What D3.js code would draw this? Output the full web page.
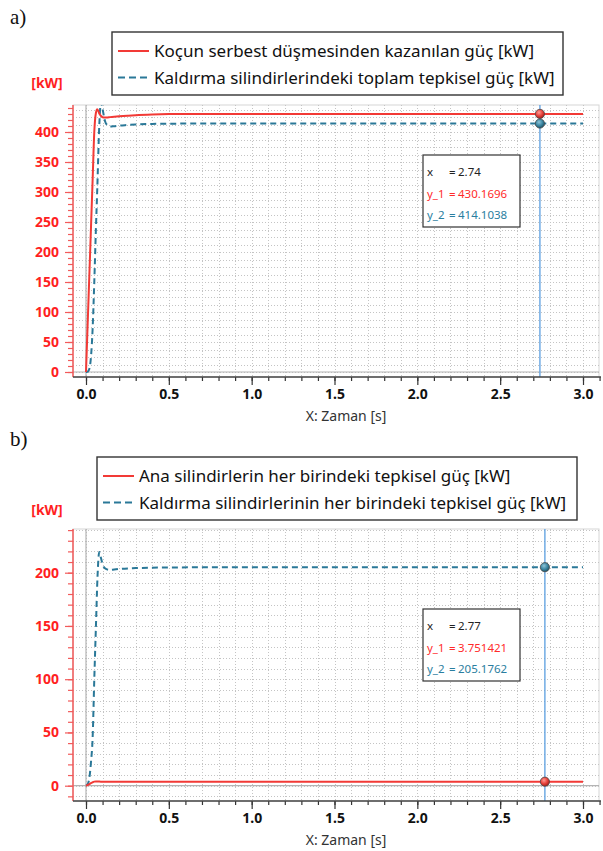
<!DOCTYPE html>
<html>
<head>
<meta charset="utf-8">
<script src="https://cdn.jsdelivr.net/npm/d3@7"></script>
<style>
  body { margin: 0; background: #fff; }
  svg { display: block; }
</style>
</head>
<body>
<svg id="chart" width="603" height="851"></svg>
<script>
// ---- Panel a) : power from the ram's free fall vs. total reaction power of lifting cylinders
const timeA = [0, 0.005, 0.01, 0.02, 0.03, 0.04, 0.05, 0.06, 0.068, 0.08, 0.09, 0.1, 0.115, 0.13, 0.145,
               0.17, 0.2, 0.25, 0.3, 0.4, 0.5, 0.7, 1.0, 1.5, 2.0, 2.5, 3.0];
const fallPowerA = [0, 40, 80, 160, 240, 320, 400, 432, 438, 431, 427, 424.5, 424, 424.3, 424.8,
                    425.5, 426.2, 427.2, 428.1, 429.2, 429.8, 430.05, 430.12, 430.16, 430.17, 430.17, 430.17];
const liftPowerA = [0, 0, 0.5, 5, 25, 72, 150, 240, 305, 410, 450, 438, 418, 411, 409,
                    409.6, 410.6, 411.6, 412.5, 413.5, 413.9, 414.05, 414.1, 414.1, 414.1, 414.1, 414.1];
const cursorA = 2.74;
const readoutA = [430.1696, 414.1038];

// ---- Panel b) : reaction power in each main cylinder vs. each lifting cylinder
const timeB = [0, 0.01, 0.02, 0.03, 0.04, 0.05, 0.06, 0.07, 0.08, 0.09, 0.1, 0.12, 0.145, 0.17,
               0.2, 0.3, 0.5, 0.7, 1.0, 1.5, 2.0, 2.5, 3.0];
const mainPowerB = [0, 0.6, 1.5, 2.4, 3.2, 3.8, 4.0, 3.95, 3.86, 3.8, 3.78, 3.765, 3.757, 3.754,
                    3.753, 3.752, 3.7515, 3.7514, 3.7514, 3.7514, 3.7514, 3.7514, 3.7514];
const liftPowerB = [0, 1.5, 7, 22, 45, 100, 150, 198, 219.5, 214, 208, 203.5, 202.5, 203,
                    203.5, 204.3, 204.9, 205.05, 205.15, 205.17, 205.18, 205.18, 205.18];
const cursorB = 2.77;
const readoutB = [3.751421, 205.1762];

// ---- Axis ticks and texts
const xMajorTicks = [0, 0.5, 1.0, 1.5, 2.0, 2.5, 3.0];
const yMajorTicksA = [0, 50, 100, 150, 200, 250, 300, 350, 400];
const yMajorTicksB = [0, 50, 100, 150, 200];
const legendA = ["Koçun serbest düşmesinden kazanılan güç [kW]",
                 "Kaldırma silindirlerindeki toplam tepkisel güç [kW]"];
const legendB = ["Ana silindirlerin her birindeki tepkisel güç [kW]",
                 "Kaldırma silindirlerinin her birindeki tepkisel güç [kW]"];
const xTitle = "X: Zaman [s]";
const yUnit = "[kW]";

// ---- Styles
const RED = "#f23a36";
const BLUE = "#2a7898";
const AXIS_RED = "#f25a5a";
const LABEL_RED = "#ff1f1f";
const CURSOR = "#5a9ee0";
const GRID = "#c4c4c4";
const SANS = "Noto Sans, DejaVu Sans, sans-serif";

const svg = d3.select("#chart");
const defs = svg.append("defs");

function ballGradient(id, light, base, dark) {
  const gr = defs.append("radialGradient").attr("id", id)
    .attr("cx", "40%").attr("cy", "35%").attr("r", "65%");
  gr.append("stop").attr("offset", "0%").attr("stop-color", light);
  gr.append("stop").attr("offset", "55%").attr("stop-color", base);
  gr.append("stop").attr("offset", "100%").attr("stop-color", dark);
}
ballGradient("ballRed", "#ff9c96", "#e8453e", "#a8201c");
ballGradient("ballBlue", "#8fc3d6", "#3f8aa6", "#1d5468");

function drawPanel(p) {
  const L = 73, R = 599;
  const g = svg.append("g");

  const x = d3.scaleLinear().domain([0, 3]).range([86, 583]);
  const y = d3.scaleLinear().domain(p.yRef).range(p.yRefPx);
  const yLo = y.invert(p.bottom), yHi = y.invert(p.top);

  // panel letter
  g.append("text").attr("x", 10).attr("y", p.letterY)
    .attr("font-family", "Liberation Serif, Times New Roman, serif")
    .attr("font-size", 21).attr("fill", "#111").text(p.letter);

  // plot background + frame
  g.append("rect").attr("x", L).attr("y", p.top).attr("width", R - L).attr("height", p.bottom - p.top)
    .attr("fill", "#fff").attr("stroke", "#d6d6d6").attr("stroke-width", 1);

  // dotted grid
  const grid = g.append("g").attr("stroke", GRID).attr("stroke-width", 1).attr("stroke-dasharray", "1,2");
  const vGrid = d3.range(-0.0, 3.0001 + 0.1, 0.1).filter(v => x(v) > L && x(v) < R);
  grid.selectAll("line.v").data(vGrid).join("line")
    .attr("x1", d => Math.round(x(d)) + 0.5).attr("x2", d => Math.round(x(d)) + 0.5)
    .attr("y1", p.top).attr("y2", p.bottom);
  const hGrid = d3.range(Math.ceil(yLo / p.gridStep) * p.gridStep, yHi, p.gridStep);
  grid.selectAll("line.h").data(hGrid).join("line")
    .attr("y1", d => Math.round(y(d)) + 0.5).attr("y2", d => Math.round(y(d)) + 0.5)
    .attr("x1", L).attr("x2", R);

  // zero lines
  g.append("line").attr("x1", x(0)).attr("x2", x(0)).attr("y1", p.top).attr("y2", p.bottom)
    .attr("stroke", "#b4b4b4").attr("stroke-width", 1.2);
  g.append("line").attr("x1", L).attr("x2", R).attr("y1", y(0)).attr("y2", y(0))
    .attr("stroke", "#b4b4b4").attr("stroke-width", 1.2);

  // clip
  const clipId = "clip" + p.letter.replace(")", "");
  defs.append("clipPath").attr("id", clipId).append("rect")
    .attr("x", L).attr("y", p.top).attr("width", R - L).attr("height", p.bottom - p.top);

  const line = d3.line().x(d => x(d[0])).y(d => y(d[1])).curve(d3.curveMonotoneX);
  const curves = g.append("g").attr("clip-path", `url(#${clipId})`);
  curves.append("path").datum(d3.zip(p.time, p.s2))
    .attr("d", line).attr("fill", "none").attr("stroke", BLUE)
    .attr("stroke-width", 2).attr("stroke-dasharray", "6,4");
  curves.append("path").datum(d3.zip(p.time, p.s1))
    .attr("d", line).attr("fill", "none").attr("stroke", RED).attr("stroke-width", 2);

  // cursor
  g.append("line").attr("x1", x(p.cursor)).attr("x2", x(p.cursor))
    .attr("y1", p.top).attr("y2", p.bottom).attr("stroke", CURSOR).attr("stroke-width", 1.3);

  // y axis (red) with minor and major ticks
  const yMinor = d3.range(Math.ceil(yLo / 10) * 10, yHi, 10);
  const yMinorAxis = g.append("g").attr("transform", `translate(${L},0)`)
    .call(d3.axisLeft(y).tickValues(yMinor).tickSize(5).tickFormat(""));
  const yMajorAxis = g.append("g").attr("transform", `translate(${L},0)`)
    .call(d3.axisLeft(y).tickValues(p.yMajor).tickSize(8).tickPadding(6).tickFormat(d3.format("d")));
  [yMinorAxis, yMajorAxis].forEach(a => {
    a.select(".domain").remove();
    a.selectAll(".tick line").attr("stroke", AXIS_RED).attr("stroke-width", 1.2);
  });
  yMajorAxis.selectAll(".tick text").attr("fill", LABEL_RED)
    .attr("font-family", SANS).attr("font-weight", "bold").attr("font-size", 14);
  g.append("line").attr("x1", L).attr("x2", L).attr("y1", p.top).attr("y2", p.bottom)
    .attr("stroke", AXIS_RED).attr("stroke-width", 1.5);

  // x axis (dark) with minor and major ticks
  const xMinor = d3.range(0, 3.0001 + 0.1, 0.1).map(v => +v.toFixed(1));
  const xMinorAxis = g.append("g").attr("transform", `translate(0,${p.bottom})`)
    .call(d3.axisBottom(x).tickValues(xMinor).tickSize(4).tickFormat(""));
  const xMajorAxis = g.append("g").attr("transform", `translate(0,${p.bottom})`)
    .call(d3.axisBottom(x).tickValues(xMajorTicks).tickSize(8).tickPadding(4).tickFormat(d3.format(".1f")));
  [xMinorAxis, xMajorAxis].forEach(a => {
    a.select(".domain").remove();
    a.selectAll(".tick line").attr("stroke", "#333").attr("stroke-width", 1.2);
  });
  xMajorAxis.selectAll(".tick text").attr("fill", "#111")
    .attr("font-family", SANS).attr("font-weight", "bold").attr("font-size", 14);
  g.append("line").attr("x1", L).attr("x2", 601).attr("y1", p.bottom).attr("y2", p.bottom)
    .attr("stroke", "#444").attr("stroke-width", 1.5);

  g.append("text").attr("x", 346).attr("y", p.bottom + 44).attr("text-anchor", "middle")
    .attr("font-family", SANS).attr("font-size", 14)
    .attr("fill", "#333").text(xTitle);

  // unit label
  g.append("text").attr("x", 47).attr("y", p.unitY).attr("text-anchor", "middle")
    .attr("font-family", SANS).attr("font-weight", "bold")
    .attr("font-size", 14).attr("fill", LABEL_RED).text(yUnit);

  // legend
  const lg = g.append("g");
  lg.append("rect").attr("x", p.legend.x).attr("y", p.legend.y)
    .attr("width", p.legend.w).attr("height", p.legend.h)
    .attr("fill", "#fff").attr("stroke", "#333").attr("stroke-width", 1.4);
  p.legendText.forEach((t, i) => {
    const cy = p.legend.y + 19 + i * 26.5;
    lg.append("line").attr("x1", p.legend.x + 6).attr("x2", p.legend.x + 37)
      .attr("y1", cy).attr("y2", cy)
      .attr("stroke", i === 0 ? RED : BLUE).attr("stroke-width", 2)
      .attr("stroke-dasharray", i === 0 ? null : "7,4");
    lg.append("text").attr("x", p.legend.x + 42).attr("y", cy + 6)
      .attr("font-family", SANS).attr("font-size", 17)
      .attr("fill", "#111").text(t);
  });

  // readout box
  const tb = g.append("g").attr("font-family", SANS).attr("font-size", 11.5);
  tb.append("rect").attr("x", 423).attr("y", p.boxY).attr("width", 97).attr("height", 72)
    .attr("fill", "#fff").attr("stroke", "#333").attr("stroke-width", 1.2);
  const rows = [["x", d3.format(".2f")(p.cursor), "#222"],
                ["y_1", p.readoutText[0], "#ff2a2a"],
                ["y_2", p.readoutText[1], "#2a7ea0"]];
  rows.forEach((r, i) => {
    const by = p.boxY + 21 + i * 21.5;
    tb.append("text").attr("x", 427).attr("y", by).attr("fill", r[2]).text(r[0]);
    tb.append("text").attr("x", 449).attr("y", by).attr("fill", r[2]).text("=");
    tb.append("text").attr("x", 458).attr("y", by).attr("fill", r[2]).text(r[1]);
  });

  // cursor markers
  [[p.readout[1], "ballBlue"], [p.readout[0], "ballRed"]].forEach(([v, fill]) => {
    g.append("circle").attr("cx", x(p.cursor)).attr("cy", y(v)).attr("r", 4.6)
      .attr("fill", `url(#${fill})`).attr("stroke", "#4a4a4a").attr("stroke-width", 0.8);
  });
}

drawPanel({
  letter: "a)", letterY: 24,
  top: 105, bottom: 377,
  yRef: [0, 400], yRefPx: [372, 132],
  yMajor: yMajorTicksA, gridStep: 12.5,
  time: timeA, s1: fallPowerA, s2: liftPowerA,
  cursor: cursorA, readout: readoutA, readoutText: ["430.1696", "414.1038"],
  legend: { x: 112, y: 32, w: 451, h: 63 }, legendText: legendA,
  unitY: 88, boxY: 155
});

drawPanel({
  letter: "b)", letterY: 446,
  top: 529, bottom: 801,
  yRef: [0, 200], yRefPx: [785.7, 572.7],
  yMajor: yMajorTicksB, gridStep: 10,
  time: timeB, s1: mainPowerB, s2: liftPowerB,
  cursor: cursorB, readout: readoutB, readoutText: ["3.751421", "205.1762"],
  legend: { x: 97, y: 457, w: 480, h: 63 }, legendText: legendB,
  unitY: 515, boxY: 609
});
</script>
</body>
</html>
